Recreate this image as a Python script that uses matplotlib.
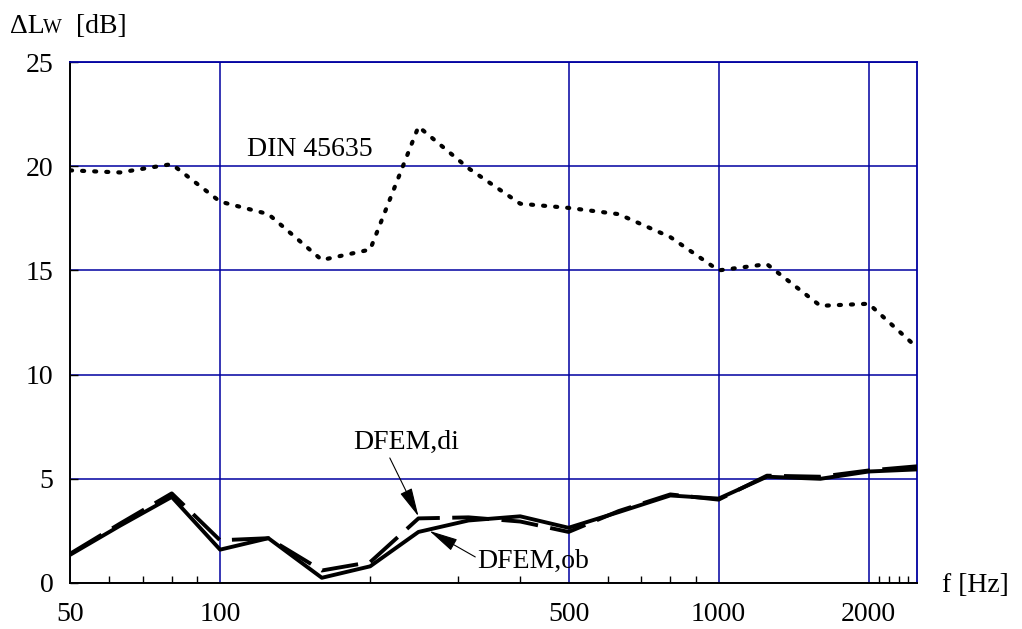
import numpy as np
import matplotlib
matplotlib.use("Agg")
import matplotlib.pyplot as plt
from matplotlib.ticker import FixedLocator, NullFormatter

# ---- data (third-octave bands) ----
freq = [50, 63, 80, 100, 125, 160, 200, 250, 315, 400, 500, 630, 800, 1000, 1250, 1600, 2000, 2500]
din_45635 = [19.8, 19.7, 20.1, 18.3, 17.7, 15.5, 16.0, 21.9, 19.9, 18.2, 18.0, 17.7, 16.6, 15.0, 15.3, 13.3, 13.4, 11.3]
dfem_ob = [1.35, 2.75, 4.13, 1.6, 2.15, 0.25, 0.8, 2.45, 3.0, 3.2, 2.65, 3.4, 4.2, 4.05, 5.1, 5.0, 5.35, 5.45]
dfem_di = [1.4, 2.85, 4.3, 2.05, 2.15, 0.6, 1.0, 3.1, 3.15, 2.95, 2.45, 3.45, 4.25, 4.0, 5.15, 5.1, 5.4, 5.6]

x_major = [50, 100, 500, 1000, 2000]
x_labels = ["50", "100", "500", "1000", "2000"]
y_ticks = [0, 5, 10, 15, 20, 25]

GRID = "#0000a0"
FONT = "Liberation Serif"
FS = 20

plt.rcParams["font.family"] = [FONT, "DejaVu Serif"]

fig = plt.figure(figsize=(10.22, 6.29), dpi=100)
ax = fig.add_axes([70/1022, 46/629, 847/1022, 521/629])

ax.plot(freq, din_45635, color="black", lw=3.0, linestyle=(0, (0.5, 2.4)),
        dash_capstyle="round", zorder=3)
ax.plot(freq, dfem_di, color="black", lw=2.8, linestyle=(0, (9.5, 3.2)), zorder=3)
ax.plot(freq, dfem_ob, color="black", lw=2.8, zorder=4)

ax.set_xscale("log")
ax.set_xlim(50, 2500)
ax.set_ylim(0, 25)

minor = [m * 10**k for k in (1, 2, 3) for m in range(1, 10)] + [2100, 2200, 2300, 2400]
minor = [v for v in minor if 50 < v < 2500 and v not in x_major]
ax.xaxis.set_major_locator(FixedLocator(x_major))
ax.xaxis.set_minor_locator(FixedLocator(minor))
ax.xaxis.set_minor_formatter(NullFormatter())
ax.set_xticklabels(x_labels)
ax.set_yticks(y_ticks)

ax.tick_params(axis="both", which="both", direction="in", labelsize=FS)
ax.tick_params(axis="x", which="major", length=0, pad=14)
ax.tick_params(axis="x", which="minor", length=5, width=1)
ax.tick_params(axis="y", which="major", length=6, width=1, pad=12)

ax.grid(True, which="major", color=GRID, lw=1.1)
ax.set_axisbelow(True)

for s in ("left", "bottom"):
    ax.spines[s].set_color("black")
    ax.spines[s].set_linewidth(1.4)
for s in ("top", "right"):
    ax.spines[s].set_color(GRID)
    ax.spines[s].set_linewidth(1.3)

# axis titles
fig.text(10/1022, 1 - 33/629, "\u0394L", fontsize=FS, va="baseline", ha="left")
fig.text(43/1022, 1 - 33/629, "W", fontsize=FS * 0.72, va="baseline", ha="left")
fig.text(76/1022, 1 - 33/629, "[dB]", fontsize=FS, va="baseline", ha="left")
fig.text(942/1022, 1 - 592/629, "f [Hz]", fontsize=FS, va="baseline", ha="left")

# labels on the chart
ax.text(113, 20.5, "DIN 45635", fontsize=FS, va="baseline", ha="left")
ax.text(185, 6.45, "DFEM,di", fontsize=FS, va="baseline", ha="left")
ax.text(328, 0.72, "DFEM,ob", fontsize=FS, va="baseline", ha="left")

arrow = dict(arrowstyle="-|>,head_length=0.9,head_width=0.2", color="black",
             lw=0.8, mutation_scale=20, shrinkA=0, shrinkB=0)
ax.annotate("", xy=(250, 3.2), xytext=(219, 6.0), arrowprops=arrow)
ax.annotate("", xy=(263, 2.5), xytext=(325, 1.25), arrowprops=arrow)

fig.savefig("out.png", dpi=100)
